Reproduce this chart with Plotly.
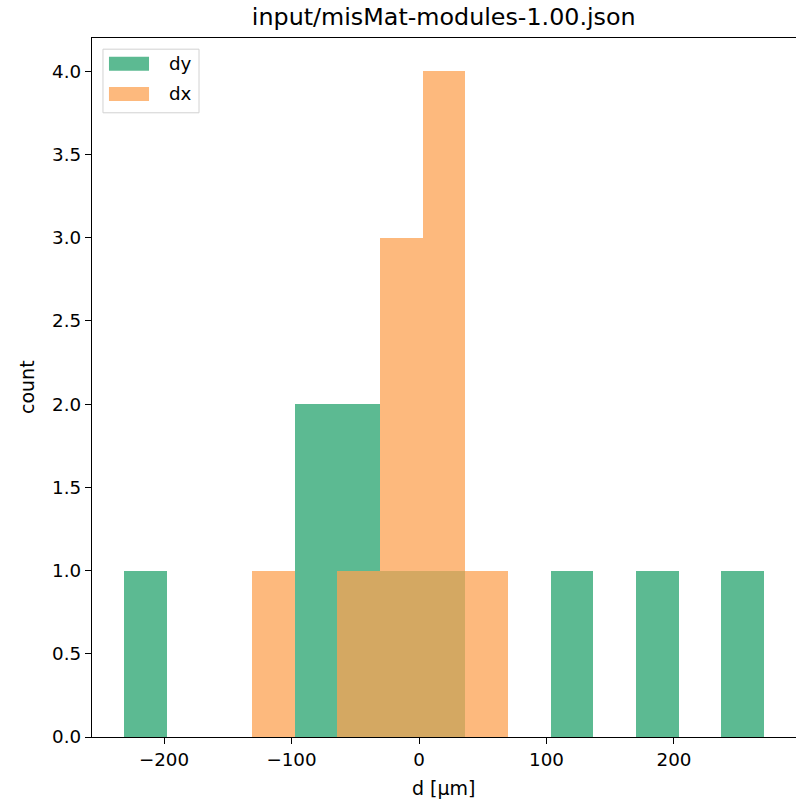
import plotly.graph_objects as go

# ---- data ----
bin_edges = [-231.4, -197.9, -164.5, -131.0, -97.6, -64.1, -30.6, 2.8,
             36.3, 69.7, 103.2, 136.7, 170.1, 203.6, 237.0, 270.6]
dy_counts = [1, 0, 0, 0, 2, 2, 1, 1, 0, 0, 1, 0, 1, 0, 1]
dx_counts = [0, 0, 0, 1, 0, 1, 3, 4, 1, 0, 0, 0, 0, 0, 0]
series_names = ["dy", "dx"]
title_text = "input/misMat-modules-1.00.json"
x_label = "d [µm]"
y_label = "count"

centers = [(a + b) / 2 for a, b in zip(bin_edges[:-1], bin_edges[1:])]
widths = [b - a for a, b in zip(bin_edges[:-1], bin_edges[1:])]

GREEN = "rgb(92,186,146)"
ORANGE = "rgba(252,162,82,0.75)"
FONT = "DejaVu Sans"
FS = 18.3

fig = go.Figure()
fig.add_trace(go.Bar(x=centers, y=dy_counts, width=widths, name=series_names[0],
                     marker=dict(color=GREEN, line=dict(width=0)), showlegend=False))
fig.add_trace(go.Bar(x=centers, y=dx_counts, width=widths, name=series_names[1],
                     marker=dict(color=ORANGE, line=dict(width=0)), showlegend=False))

span = bin_edges[-1] - bin_edges[0]
xr = [bin_edges[0] - 0.05 * span, bin_edges[-1] + 0.05 * span]
ymax = max(max(dy_counts), max(dx_counts)) * 1.05

fig.update_layout(
    width=796, height=801,
    margin=dict(l=92, r=0, t=38, b=64, autoexpand=False),
    paper_bgcolor="white", plot_bgcolor="white",
    barmode="overlay", bargap=0,
    font=dict(family=FONT, size=FS, color="black"),
    title=dict(text=title_text, x=0.5575, xanchor="center", y=0.979, yanchor="middle",
               font=dict(size=23.8, family=FONT)),
    xaxis=dict(range=xr, dtick=100, tick0=0, showgrid=False, zeroline=False, automargin=False,
               showline=True, linecolor="black", linewidth=1.3, mirror=True,
               ticks="outside", ticklen=6, tickwidth=1.3, tickcolor="black"),
    yaxis=dict(range=[0, ymax], dtick=0.5, tick0=0, tickformat=".1f", showgrid=False,
               zeroline=False, showline=True, linecolor="black", linewidth=1.3, mirror=True,
               automargin=False,
               ticks="outside", ticklen=6, tickwidth=1.3, tickcolor="black"),
)

# ---- matplotlib-style legend ----
shapes = [
    dict(type="rect", xref="paper", yref="paper", x0=0.0156, x1=0.152, y0=0.893, y1=0.984,
         line=dict(color="rgb(210,210,210)", width=1), fillcolor="rgba(255,255,255,0.8)", layer="above"),
    dict(type="rect", xref="paper", yref="paper", x0=0.0241, x1=0.0810, y0=0.953, y1=0.973,
         line=dict(width=0), fillcolor=GREEN, layer="above"),
    dict(type="rect", xref="paper", yref="paper", x0=0.0241, x1=0.0810, y0=0.910, y1=0.930,
         line=dict(width=0), fillcolor=ORANGE, layer="above"),
]
annotations = [
    dict(text=series_names[0], xref="paper", yref="paper", x=0.106, y=0.963,
         xanchor="left", yanchor="middle", showarrow=False, font=dict(size=FS, family=FONT)),
    dict(text=series_names[1], xref="paper", yref="paper", x=0.106, y=0.920,
         xanchor="left", yanchor="middle", showarrow=False, font=dict(size=FS, family=FONT)),
    # axis titles
    dict(text=x_label, xref="paper", yref="paper", x=0.5, y=-0.073,
         xanchor="center", yanchor="middle", showarrow=False, font=dict(size=19, family=FONT)),
    dict(text=y_label, xref="paper", yref="paper", x=-0.093, y=0.5, textangle=-90,
         xanchor="center", yanchor="middle", showarrow=False, font=dict(size=19, family=FONT)),
]
fig.update_layout(shapes=shapes, annotations=annotations)

fig.write_html("out.html", config={"displayModeBar": False},
               post_script="document.body.style.margin='0';")
